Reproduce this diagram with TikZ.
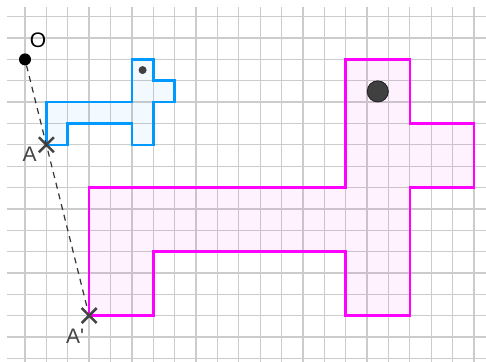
\documentclass[tikz,border=0pt]{standalone}
\usepackage{fontspec}
\setmainfont{Liberation Sans}
\usetikzlibrary{shapes.misc}
\definecolor{geoblue}{RGB}{0,153,255}
\definecolor{geopink}{RGB}{255,0,255}
\definecolor{gridgray}{RGB}{204,204,204}
\definecolor{ptgray}{RGB}{68,68,68}
\definecolor{eyegray}{RGB}{64,64,64}
\tikzset{
  gridline/.style={draw=gridgray, line width=1.3pt},
  bluefig/.style={draw=geoblue, line width=2.6pt, fill=geoblue, fill opacity=0.05, line join=miter},
  pinkfig/.style={draw=geopink, line width=2.6pt, fill=geopink, fill opacity=0.05, line join=miter},
  crossmark/.style={cross out, draw=ptgray, line width=2.5pt, inner sep=0pt, minimum size=12.5pt},
  dashline/.style={draw=black!80, line width=1.2pt, dash pattern=on 6pt off 5pt},
  lab/.style={font=\fontsize{21}{21}\selectfont, inner sep=0pt},
}
\begin{document}
\begin{tikzpicture}[x=21.38pt,y=-21.35pt]
\useasboundingbox (-1.1693,-0.7822) rectangle (21.562,16.173);
\fill[white] (-1.1693,-0.7822) rectangle (21.562,16.173);
% grid
\foreach \i in {0,...,21} \draw[gridline] (\i,-0.45) -- (\i,16.173);
\foreach \j in {0,...,16} \draw[gridline] (-0.83,\j) -- (21.562,\j);
% small figure
\path[bluefig] (1,4) -- (5,4) -- (5,2) -- (6,2) -- (6,3) -- (7,3) -- (7,4) -- (6,4)
  -- (6,6) -- (5,6) -- (5,5) -- (2,5) -- (2,6) -- (1,6) -- cycle;
% large figure
\path[pinkfig] (3,8) -- (15,8) -- (15,2) -- (18,2) -- (18,5) -- (21,5) -- (21,8) -- (18,8)
  -- (18,14) -- (15,14) -- (15,11) -- (6,11) -- (6,14) -- (3,14) -- cycle;
% eyes
\node[circle, fill=eyegray, inner sep=0pt, minimum size=8pt] (eyeS) at (5.5,2.5) {};
\node[circle, fill=eyegray, draw=black!85, line width=1pt, inner sep=0pt, minimum size=21pt] (eyeL) at (16.5,3.5) {};
% points
\node[circle, fill=black, inner sep=0pt, minimum size=12pt] (O) at (0,2) {};
\node[crossmark] (A) at (1,6) {};
\node[crossmark] (A2) at (3,14) {};
\draw[dashline] (O) -- (A2);
% labels
\node[lab, text=black] (Olab) at (0.61,1.09) {O};
\node[lab, text=ptgray] (Alab) at (0.22,6.43) {A};
\node[lab, text=ptgray] (A2lab) at (2.34,14.96) {A\textquotesingle};
\end{tikzpicture}
\end{document}
